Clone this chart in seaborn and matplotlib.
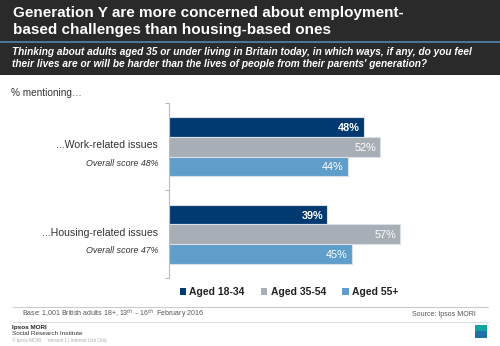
import matplotlib
matplotlib.use("Agg")
import matplotlib.pyplot as plt
import matplotlib.transforms as mtransforms
from matplotlib.patches import Rectangle
import seaborn as sns
import pandas as pd

# ---- data ----
categories = ["...Work-related issues", "...Housing-related issues"]
overall = ["Overall score 48%", "Overall score 47%"]
age_groups = ["Aged 18-34", "Aged 35-54", "Aged 55+"]
aged_18_34 = [48, 39]
aged_35_54 = [52, 57]
aged_55_plus = [44, 45]
colors = ["#003A70", "#A7AEB5", "#5F9ECB"]

title = "Generation Y are more concerned about employment-\nbased challenges than housing-based ones"
subtitle = ("Thinking about adults aged 35 or under living in Britain today, in which ways, if any, do you feel\n"
            "their lives are or will be harder than the lives of people from their parents' generation?")

rows = []
for g, vals in zip(age_groups, [aged_18_34, aged_35_54, aged_55_plus]):
    for c, v in zip(categories, vals):
        rows.append({"category": c, "group": g, "value": v})
df = pd.DataFrame(rows)

sns.set_theme(style="white")
plt.rcParams["font.family"] = ["Liberation Sans", "DejaVu Sans"]

W, H = 500, 346
fig = plt.figure(figsize=(W / 100, H / 100), dpi=100)

def fx(px):
    return px / W

def fy(py):
    return 1 - py / H

# header banner
fig.patches.append(Rectangle((0, fy(75)), 1, 75 / H, transform=fig.transFigure,
                             facecolor="#2a2a2a", edgecolor="none", zorder=0))
fig.add_artist(plt.Line2D([0, 1], [fy(41.5), fy(41.5)], transform=fig.transFigure,
                          color="#4f86b4", lw=1.2))
fig.text(fx(13), fy(21.5), title, color="white", fontsize=11.0, fontweight="bold",
         va="center", ha="left", linespacing=1.35)
fig.text(fx(12), fy(58), subtitle, color="white", fontsize=7.3, fontweight="bold",
         style="italic", va="center", ha="left", linespacing=1.3)
fig.text(fx(11), fy(93), "% mentioning…", color="#333333", fontsize=7.2, va="center", ha="left")

# axes
ax_left, ax_top, ax_bottom = 169, 103, 278
ax_w = 325
ax = fig.add_axes([fx(ax_left), fy(ax_bottom), ax_w / W, (ax_bottom - ax_top) / H])
sns.barplot(data=df, y="category", x="value", hue="group", order=categories,
            hue_order=age_groups, palette=colors, saturation=1, orient="h", width=0.67,
            edgecolor="#d8e1ea", linewidth=0.8, ax=ax, legend=True)
ax.set_xlim(0, ax_w / 4.06)
ax.set_ylim(1.5, -0.5)
ax.set_xlabel("")
ax.set_ylabel("")
ax.set_xticks([])
ax.set_yticks([])
ax.set_yticks([-0.5, 0.5, 1.5], minor=True)
ax.tick_params(axis="y", which="minor", left=True, length=3, width=0.8, color="#bbbbbb", direction="out")
for s in ["top", "right", "bottom"]:
    ax.spines[s].set_visible(False)
ax.spines["left"].set_color("#bbbbbb")
ax.spines["left"].set_linewidth(0.8)

# value labels
for i, cont in enumerate(ax.containers):
    for bar, val in zip(cont, [aged_18_34, aged_35_54, aged_55_plus][i]):
        ax.text(bar.get_width() - 1.0, bar.get_y() + bar.get_height() / 2 + 0.01,
                f"{val}%", color="white", fontsize=7.8,
                fontweight="bold" if i == 0 else "normal",
                ha="right", va="center")

# category labels
trans = mtransforms.blended_transform_factory(ax.transAxes, ax.transData)
trans = trans + mtransforms.ScaledTranslation(-11 / 100, 0, fig.dpi_scale_trans)
for i, (c, o) in enumerate(zip(categories, overall)):
    ax.text(0, i - 0.02, c, transform=trans, ha="right", va="center",
            fontsize=7.6, color="#333333")
    ax.text(0, i + 0.19, o, transform=trans, ha="right", va="center",
            fontsize=6.4, color="#333333", style="italic")

# legend
handles, labels = ax.get_legend_handles_labels()
ax.get_legend().remove()
leg = fig.legend(handles, labels, loc="center", bbox_to_anchor=(fx(289), fy(292)),
                 ncol=3, frameon=False, fontsize=7.5, handlelength=0.6, handleheight=0.6,
                 handletextpad=0.3, columnspacing=1.6, borderaxespad=0)
for t in leg.get_texts():
    t.set_fontweight("bold")
    t.set_color("#222222")
for h in leg.legend_handles:
    h.set_edgecolor("none")

# footer
fig.add_artist(plt.Line2D([fx(13), fx(488)], [fy(306.5), fy(306.5)], transform=fig.transFigure,
                          color="#cccccc", lw=0.8))
fig.add_artist(plt.Line2D([fx(13), fx(488)], [fy(321.5), fy(321.5)], transform=fig.transFigure,
                          color="#dddddd", lw=0.8))
fig.text(fx(22), fy(314), "Base: 1,001 British adults 18+, 13$^{th}$ – 16$^{th}$  February 2016",
         fontsize=5.0, color="#555555", va="center", ha="left")
fig.text(fx(476), fy(314), "Source: Ipsos MORI", fontsize=5.0, color="#555555",
         va="center", ha="right")
fig.text(fx(12), fy(327.5), "Ipsos MORI", fontsize=4.6, color="#222222",
         fontweight="bold", va="center", ha="left")
fig.text(fx(12), fy(333.8), "Social Research Institute", fontsize=4.6, color="#333333",
         va="center", ha="left")
fig.text(fx(12), fy(340), "© Ipsos MORI     Version 1 | Internal Use Only", fontsize=3.3,
         color="#aaaaaa", va="center", ha="left")
fig.patches.append(Rectangle((fx(475), fy(338)), 12 / W, 13 / H, transform=fig.transFigure,
                             facecolor="#1f6fa8", edgecolor="none"))
fig.patches.append(Rectangle((fx(475), fy(331)), 12 / W, 6 / H, transform=fig.transFigure,
                             facecolor="#12a3a0", edgecolor="none"))

fig.savefig("out.png", dpi=100)
